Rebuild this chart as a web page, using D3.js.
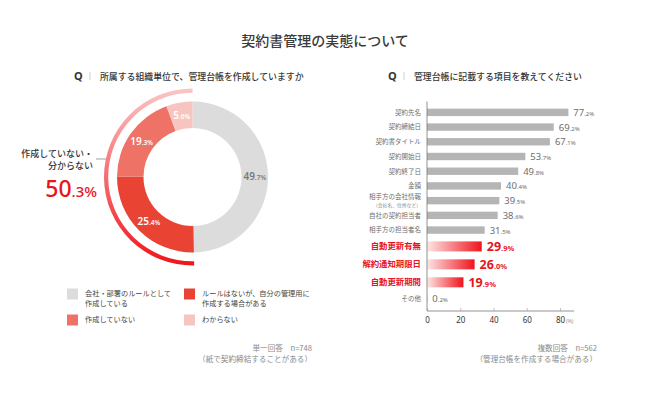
<!DOCTYPE html>
<html>
<head>
<meta charset="utf-8">
<script src="https://cdn.jsdelivr.net/npm/d3@7"></script>
<style>
  body { margin: 0; background: #fff; }
  svg { display: block; font-family: "Noto Sans CJK JP", "Noto Sans", sans-serif; }
  .num { font-family: "Noto Sans", "Liberation Sans", sans-serif; }
</style>
</head>
<body>
<div id="chart"></div>
<script>
"use strict";

// ---- data ----
var title = "契約書管理の実態について";

var pieQuestion = "所属する組織単位で、管理台帳を作成していますか";
var pieCats = ["会社・部署のルールとして作成している", "ルールはないが、自分の管理用に作成する場合がある", "作成していない", "わからない"];
var pieValues = [49.7, 25.4, 19.3, 5.6];
var pieLegendLines = [["会社・部署のルールとして", "作成している"], ["ルールはないが、自分の管理用に", "作成する場合がある"], ["作成していない"], ["わからない"]];
var pieColors = ["#dcdcdc", "#e94334", "#ee7266", "#f8c4c0"];
var pieGroupLabel = ["作成していない・", "分からない"];
var pieNote = ["単一回答　n=748", "（紙で契約締結することがある）"];

var barQuestion = "管理台帳に記載する項目を教えてください";
var barCats = ["契約先名", "契約締結日", "契約書タイトル", "契約開始日", "契約終了日", "金額", "相手方の会社情報", "自社の契約担当者", "相手方の担当者名", "自動更新有無", "解約通知期限日", "自動更新期間", "その他"];
var barValues = [77.2, 69.2, 67.1, 53.7, 49.8, 40.4, 39.5, 38.6, 31.5, 29.9, 26.0, 19.9, 0.2];
var barHighlight = ["自動更新有無", "解約通知期限日", "自動更新期間"];
var barSubLabels = { "相手方の会社情報": "（会社名、住所など）" };
var barTicks = [0, 20, 40, 60, 80];
var barNote = ["複数回答　n=562", "（管理台帳を作成する場合がある）"];

// ---- setup ----
var W = 650, H = 397;
var svg = d3.select("#chart").append("svg")
  .attr("width", W).attr("height", H);

var defs = svg.append("defs");

function splitNum(v) {
  var s = v.toFixed(1).split(".");
  return [s[0], "." + s[1] + "%"];
}

svg.append("text")
  .attr("x", 325).attr("y", 46)
  .attr("text-anchor", "middle")
  .attr("font-size", 14).attr("font-weight", 500)
  .attr("fill", "#3a3a3a")
  .text(title);

// question headers
function question(x, txt) {
  var g = svg.append("g").attr("transform", "translate(" + x + ",80)");
  g.append("text").attr("class", "num").attr("x", 0).attr("y", 0)
    .attr("font-size", 11).attr("font-weight", 700).attr("fill", "#333").text("Q");
  g.append("line").attr("x1", 16).attr("x2", 16).attr("y1", -8).attr("y2", 0)
    .attr("stroke", "#bbb").attr("stroke-width", 0.7);
  g.append("text").attr("x", 26).attr("y", -0.5)
    .attr("font-size", 8.9).attr("font-weight", 500).attr("fill", "#333").text(txt);
}
question(74, pieQuestion);
question(388, barQuestion);

// ---- donut ----
var cx = 192.5, cy = 177;
var pie = d3.pie().sort(null).value(function (d) { return d; });
var arcs = pie(pieValues);
var arc = d3.arc().innerRadius(49).outerRadius(75.5);
var donut = svg.append("g").attr("transform", "translate(" + cx + "," + cy + ")");

donut.selectAll("path.slice")
  .data(arcs).enter().append("path")
  .attr("class", "slice")
  .attr("d", arc)
  .attr("fill", function (d, i) { return pieColors[i]; });

var lbl = donut.selectAll("text.slbl")
  .data(arcs).enter().append("text")
  .attr("class", "slbl num")
  .attr("transform", function (d) {
    var c = arc.centroid(d);
    return "translate(" + c[0] + "," + (c[1] + 3.5) + ")";
  })
  .attr("text-anchor", "middle")
  .attr("font-weight", 600)
  .attr("fill", function (d, i) { return i === 0 ? "#7a7a7a" : "#fff"; });
lbl.append("tspan").attr("font-size", 10).text(function (d) { return splitNum(d.data)[0]; });
lbl.append("tspan").attr("font-size", 6.5).text(function (d) { return splitNum(d.data)[1]; });

// outer gradient arc for the "not created / unknown" group
var groupTotal = d3.sum(pieValues.slice(1));
var grad = defs.append("linearGradient").attr("id", "arcGrad")
  .attr("gradientUnits", "userSpaceOnUse")
  .attr("x1", 0).attr("y1", -89).attr("x2", 0).attr("y2", 89);
grad.append("stop").attr("offset", "0%").attr("stop-color", "#fac6c6");
grad.append("stop").attr("offset", "100%").attr("stop-color", "#f0141a");

var outerArc = d3.arc().innerRadius(84.3).outerRadius(88.5)
  .startAngle(0).endAngle(-groupTotal / 100 * 2 * Math.PI);
donut.append("path").attr("d", outerArc()).attr("fill", "url(#arcGrad)");

// group callout
svg.append("line").attr("x1", 96).attr("x2", 106).attr("y1", 159).attr("y2", 159)
  .attr("stroke", "#888").attr("stroke-width", 0.8);
svg.selectAll("text.glbl").data(pieGroupLabel).enter().append("text")
  .attr("class", "glbl")
  .attr("x", 93).attr("y", function (d, i) { return 157 + i * 12; })
  .attr("text-anchor", "end")
  .attr("font-size", 9).attr("font-weight", 500).attr("fill", "#333")
  .text(function (d) { return d; });
var big = svg.append("text").attr("class", "num")
  .attr("x", 97).attr("y", 197)
  .attr("text-anchor", "end")
  .attr("fill", "#e8141e").attr("font-weight", 500);
big.append("tspan").attr("font-size", 23).text(splitNum(groupTotal)[0]);
big.append("tspan").attr("font-size", 15).text(splitNum(groupTotal)[1]);

// legend
var legend = svg.append("g");
var legItems = legend.selectAll("g").data(pieCats).enter().append("g")
  .attr("transform", function (d, i) {
    return "translate(" + (67 + (i % 2) * 117) + "," + (288.5 + Math.floor(i / 2) * 26) + ")";
  });
legItems.append("rect").attr("width", 11).attr("height", 11)
  .attr("fill", function (d, i) { return pieColors[i]; });
legItems.each(function (d, i) {
  var lines = pieLegendLines[i];
  d3.select(this).selectAll("text").data(lines).enter().append("text")
    .attr("x", 18).attr("y", function (l, j) { return 7.5 + j * 10; })
    .attr("font-size", 7.2).attr("fill", "#444")
    .text(function (l) { return l; });
});

function note(x, lines) {
  svg.selectAll(null).data(lines).enter().append("text")
    .attr("x", x).attr("y", function (d, i) { return 351 + i * 10.5; })
    .attr("text-anchor", "end")
    .attr("font-size", 7.6).attr("fill", "#8a8a8a")
    .text(function (d) { return d; });
}
note(312, pieNote);

// ---- bar chart ----
var x0 = 427;
var xBar = d3.scaleLinear().domain([0, 80]).range([x0, x0 + 146.5]);
var xAxisScale = d3.scaleLinear().domain([0, 80]).range([x0, x0 + 133]);

// rows: highlighted rows take a bit more room
var rowUnits = barCats.map(function (c) { return barHighlight.indexOf(c) >= 0 ? 1.22 : 1; });
var cum = [0];
rowUnits.forEach(function (u, i) { cum.push(cum[i] + u); });
var yRow = d3.scaleLinear().domain([0, cum[cum.length - 1]]).range([105, 306]);
function rowCenter(i) { return yRow(cum[i] + rowUnits[i] / 2); }

var barGrad = defs.append("linearGradient").attr("id", "barGrad")
  .attr("x1", "0%").attr("x2", "100%").attr("y1", "0%").attr("y2", "0%");
barGrad.append("stop").attr("offset", "0%").attr("stop-color", "#fde6e6");
barGrad.append("stop").attr("offset", "100%").attr("stop-color", "#ee141c");

var rows = barCats.map(function (c, i) {
  return { cat: c, val: barValues[i], hl: barHighlight.indexOf(c) >= 0, y: rowCenter(i) };
});

var bars = svg.append("g");
bars.selectAll("rect").data(rows).enter().append("rect")
  .attr("x", xBar(0))
  .attr("y", function (d) { return d.y - (d.hl ? 5 : 3.7); })
  .attr("height", function (d) { return d.hl ? 10 : 7.4; })
  .attr("width", function (d) { return xBar(d.val) - xBar(0); })
  .attr("fill", function (d) { return d.hl ? "url(#barGrad)" : "#b5b5b5"; });

var vl = bars.selectAll("text.val").data(rows).enter().append("text")
  .attr("class", "val num")
  .attr("x", function (d) { return xBar(d.val) + 5; })
  .attr("y", function (d) { return d.y + (d.hl ? 4.5 : 3.5); })
  .attr("fill", function (d) { return d.hl ? "#e8141e" : "#6e6e6e"; })
  .attr("font-weight", function (d) { return d.hl ? 700 : 400; });
vl.append("tspan").attr("font-size", function (d) { return d.hl ? 12.5 : 9.5; })
  .text(function (d) { return splitNum(d.val)[0]; });
vl.append("tspan").attr("font-size", function (d) { return d.hl ? 7.5 : 6; })
  .text(function (d) { return splitNum(d.val)[1]; });

bars.selectAll("text.cat").data(rows).enter().append("text")
  .attr("class", "cat")
  .attr("x", 421)
  .attr("y", function (d) {
    if (barSubLabels[d.cat]) return d.y - 1.5;
    return d.y + (d.hl ? 3 : 2.3);
  })
  .attr("text-anchor", "end")
  .attr("font-size", function (d) { return d.hl ? 8.4 : 6.5; })
  .attr("font-weight", function (d) { return d.hl ? 700 : 400; })
  .attr("fill", function (d) { return d.hl ? "#e8141e" : "#6e6e6e"; })
  .text(function (d) { return d.cat; });

bars.selectAll("text.sub").data(rows.filter(function (d) { return barSubLabels[d.cat]; }))
  .enter().append("text")
  .attr("x", 421).attr("y", function (d) { return d.y + 6.5; })
  .attr("text-anchor", "end")
  .attr("font-size", 4.8).attr("fill", "#888")
  .text(function (d) { return barSubLabels[d.cat]; });

// axes
svg.append("line").attr("x1", x0).attr("x2", x0).attr("y1", 101.5).attr("y2", 311)
  .attr("stroke", "#777").attr("stroke-width", 0.8);

var xAxis = svg.append("g")
  .attr("transform", "translate(0,311)")
  .call(d3.axisBottom(xAxisScale).tickValues(barTicks).tickSize(-3).tickPadding(6)
    .tickFormat(d3.format("d")));
xAxis.select(".domain").attr("d", "M" + x0 + ",0H" + (x0 + 147)).attr("stroke", "#777").attr("stroke-width", 0.8);
xAxis.selectAll(".tick line").attr("stroke", "#999").attr("stroke-width", 0.6);
xAxis.selectAll(".tick text").attr("class", "num").attr("font-size", 8).attr("fill", "#333")
  .attr("font-family", "Noto Sans, sans-serif");
xAxis.append("text")
  .attr("x", xAxisScale(80) + 6).attr("y", 11.5)
  .attr("font-size", 4.8).attr("fill", "#888").attr("text-anchor", "start")
  .text("(%)");

note(597, barNote);
</script>
</body>
</html>
